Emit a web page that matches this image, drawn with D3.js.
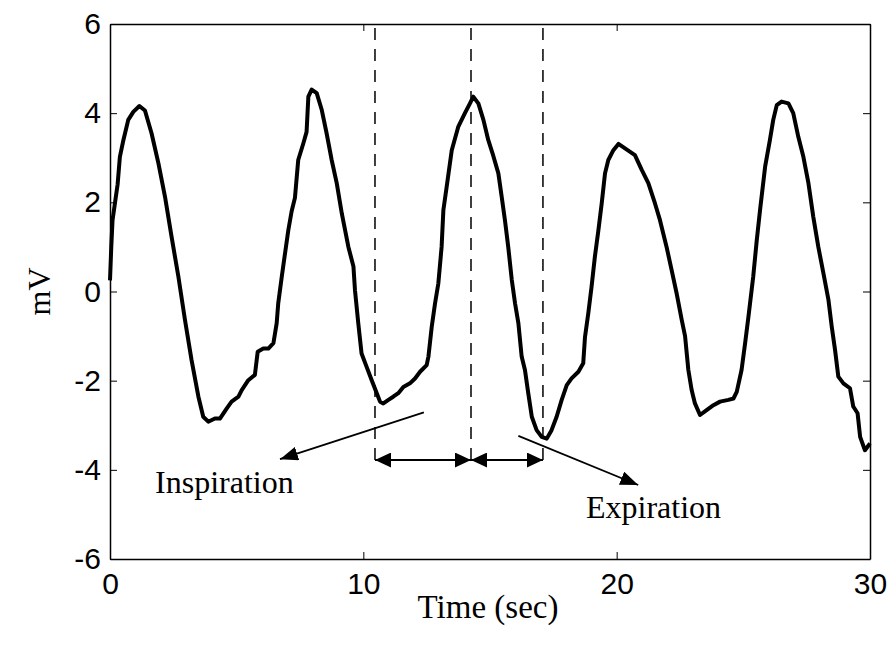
<!DOCTYPE html>
<html>
<head>
<meta charset="utf-8">
<script src="https://cdn.jsdelivr.net/npm/d3@7"></script>
<style>
  html, body { margin: 0; padding: 0; background: #fff; }
  svg { display: block; }
</style>
</head>
<body>
<svg id="chart" width="890" height="646"></svg>
<script>
// ---- data ----
const timeSec = [0.00,0.05,0.10,0.20,0.30,0.39,0.53,0.72,0.92,1.16,1.38,1.64,1.91,2.17,2.43,2.70,2.96,3.22,3.49,3.68,3.88,4.14,4.34,4.61,4.80,5.07,5.20,5.46,5.72,5.83,6.05,6.25,6.45,6.58,6.64,6.78,6.91,7.04,7.17,7.30,7.43,7.63,7.76,7.83,7.96,8.16,8.36,8.55,8.75,8.95,9.15,9.41,9.61,9.67,9.80,9.93,10.13,10.33,10.53,10.66,10.79,10.99,11.18,11.38,11.58,11.84,12.04,12.24,12.50,12.57,12.70,12.83,12.96,13.09,13.16,13.29,13.49,13.75,14.01,14.21,14.34,14.54,14.74,14.93,15.10,15.33,15.46,15.59,15.72,15.86,15.99,16.12,16.25,16.38,16.51,16.65,16.84,17.04,17.24,17.43,17.63,17.83,18.03,18.22,18.49,18.68,18.75,18.88,19.01,19.14,19.28,19.41,19.54,19.67,19.87,20.07,20.33,20.72,20.99,21.25,21.51,21.71,21.97,22.17,22.37,22.57,22.70,22.83,22.96,23.09,23.29,23.55,23.82,24.08,24.41,24.61,24.74,24.93,25.07,25.20,25.39,25.53,25.66,25.86,26.05,26.18,26.32,26.51,26.78,26.97,27.17,27.37,27.57,27.76,27.96,28.16,28.36,28.49,28.62,28.75,28.95,29.21,29.34,29.51,29.61,29.80,30.00];
const voltage = [0.25,1.0,1.6,2.0,2.4,3.02,3.40,3.85,4.03,4.16,4.06,3.55,2.88,2.13,1.23,0.33,-0.64,-1.54,-2.36,-2.81,-2.92,-2.85,-2.85,-2.62,-2.47,-2.36,-2.21,-1.99,-1.87,-1.35,-1.28,-1.28,-1.16,-0.71,-0.27,0.33,0.86,1.38,1.80,2.10,2.95,3.32,3.58,4.37,4.53,4.45,4.07,3.55,2.95,2.43,1.75,1.00,0.56,0.03,-0.71,-1.39,-1.69,-1.99,-2.28,-2.47,-2.51,-2.43,-2.36,-2.28,-2.14,-2.06,-1.95,-1.80,-1.65,-1.46,-0.79,-0.27,0.18,1.00,1.83,2.35,3.17,3.70,4.00,4.22,4.37,4.22,3.85,3.40,3.10,2.65,2.13,1.60,1.00,0.26,-0.27,-0.71,-1.46,-1.76,-2.28,-2.81,-3.11,-3.26,-3.30,-3.11,-2.81,-2.43,-2.10,-1.95,-1.80,-1.61,-1.02,-0.49,0.11,0.78,1.38,1.98,2.65,2.95,3.17,3.31,3.21,3.06,2.73,2.43,1.98,1.60,1.00,0.48,-0.05,-0.64,-1.00,-1.76,-2.21,-2.51,-2.77,-2.66,-2.55,-2.47,-2.43,-2.40,-2.25,-1.76,-1.16,-0.57,0.33,1.15,1.83,2.80,3.40,3.85,4.18,4.26,4.22,4.00,3.47,3.02,2.43,1.68,1.00,0.41,-0.19,-0.79,-1.31,-1.91,-2.06,-2.17,-2.58,-2.73,-3.26,-3.56,-3.41];

const xTicks = [0, 10, 20, 30];
const yTicks = [-6, -4, -2, 0, 2, 4, 6];
const xLabel = "Time (sec)";
const yLabel = "mV";

// annotation values (data units)
const markerTimes = [10.46, 14.25, 17.09];
const markerLevel = -3.78;
const inspArrow = { from: [12.39, -2.71], to: [6.71, -3.76] };
const expArrow  = { from: [16.12, -3.24], to: [20.85, -4.34] };
const inspText = { label: "Inspiration", t: 1.78, v: -4.52 };
const expText  = { label: "Expiration",  t: 18.79, v: -5.08 };

// ---- layout ----
const W = 890, H = 646;
const margin = { top: 24, right: 20, bottom: 87, left: 110 };
const iw = W - margin.left - margin.right;
const ih = H - margin.top - margin.bottom;

const svg = d3.select("#chart");
const g = svg.append("g").attr("transform", `translate(${margin.left},${margin.top})`);

const x = d3.scaleLinear().domain([0, 30]).range([0, iw]);
const y = d3.scaleLinear().domain([-6, 6]).range([ih, 0]);

const tickLen = 7;
const tickFont = "'Liberation Sans', Arial, sans-serif";
const serif = "'Liberation Serif', 'Times New Roman', serif";
const plainFmt = d => String(d); // hyphen-minus like the original

function styleAxis(sel, showLabels) {
  sel.select(".domain").attr("stroke", "#000").attr("stroke-width", 1.5);
  sel.selectAll(".tick line").attr("stroke", "#000").attr("stroke-width", 1);
  sel.selectAll(".tick text")
    .attr("fill", "#000")
    .style("font-family", tickFont)
    .style("font-size", "30px");
  if (!showLabels) sel.selectAll(".tick text").remove();
}

g.append("g").attr("transform", `translate(0,${ih})`)
  .call(d3.axisBottom(x).tickValues(xTicks).tickSizeInner(-tickLen).tickSizeOuter(0).tickPadding(14).tickFormat(plainFmt))
  .call(s => styleAxis(s, true));
g.append("g")
  .call(d3.axisTop(x).tickValues(xTicks).tickSizeInner(-tickLen).tickSizeOuter(0))
  .call(s => styleAxis(s, false));
g.append("g")
  .call(d3.axisLeft(y).tickValues(yTicks).tickSizeInner(-tickLen).tickSizeOuter(0).tickPadding(9).tickFormat(plainFmt))
  .call(s => styleAxis(s, true));
g.append("g").attr("transform", `translate(${iw},0)`)
  .call(d3.axisRight(y).tickValues(yTicks).tickSizeInner(-tickLen).tickSizeOuter(0))
  .call(s => styleAxis(s, false));

// axis titles
svg.append("text")
  .attr("x", 488).attr("y", 618)
  .attr("text-anchor", "middle")
  .style("font-family", serif).style("font-size", "33px")
  .text(xLabel);
svg.append("text")
  .attr("transform", `translate(50,${margin.top + y(0)}) rotate(-90)`)
  .attr("text-anchor", "middle")
  .style("font-family", serif).style("font-size", "32px")
  .text(yLabel);

// signal line
const pts = timeSec.map((t, i) => [t, voltage[i]]);
const line = d3.line().x(d => x(d[0])).y(d => y(d[1]));
g.append("path").datum(pts)
  .attr("d", line)
  .attr("fill", "none")
  .attr("stroke", "#000")
  .attr("stroke-width", 4)
  .attr("stroke-linejoin", "round");

// markers
const defs = svg.append("defs");
function addMarker(id, len, half) {
  defs.append("marker")
    .attr("id", id)
    .attr("markerUnits", "userSpaceOnUse")
    .attr("viewBox", `0 ${-half} ${len} ${2 * half}`)
    .attr("refX", len).attr("refY", 0)
    .attr("markerWidth", len).attr("markerHeight", 2 * half)
    .attr("orient", "auto-start-reverse")
    .append("path")
    .attr("d", `M0,${-half}L${len},0L0,${half}Z`)
    .attr("fill", "#000");
}
addMarker("headDim", 16, 7.5);
addMarker("headAnn", 18, 7);

// dashed verticals
g.selectAll(".vdash").data(markerTimes).enter().append("line")
  .attr("x1", d => x(d)).attr("x2", d => x(d))
  .attr("y1", 4).attr("y2", y(markerLevel))
  .attr("stroke", "#000").attr("stroke-width", 1.5)
  .attr("stroke-dasharray", "12,9");

// dimension arrows
const spans = d3.pairs(markerTimes);
g.selectAll(".dim").data(spans).enter().append("line")
  .attr("x1", d => x(d[0])).attr("x2", d => x(d[1]))
  .attr("y1", y(markerLevel)).attr("y2", y(markerLevel))
  .attr("stroke", "#000").attr("stroke-width", 2)
  .attr("marker-start", "url(#headDim)")
  .attr("marker-end", "url(#headDim)");

// annotation arrows
[inspArrow, expArrow].forEach(a => {
  g.append("line")
    .attr("x1", x(a.from[0])).attr("y1", y(a.from[1]))
    .attr("x2", x(a.to[0])).attr("y2", y(a.to[1]))
    .attr("stroke", "#000").attr("stroke-width", 1.8)
    .attr("marker-end", "url(#headAnn)");
});

// annotation texts
[inspText, expText].forEach(tx => {
  g.append("text")
    .attr("x", x(tx.t)).attr("y", y(tx.v))
    .style("font-family", serif).style("font-size", "32px")
    .text(tx.label);
});
</script>
</body>
</html>
